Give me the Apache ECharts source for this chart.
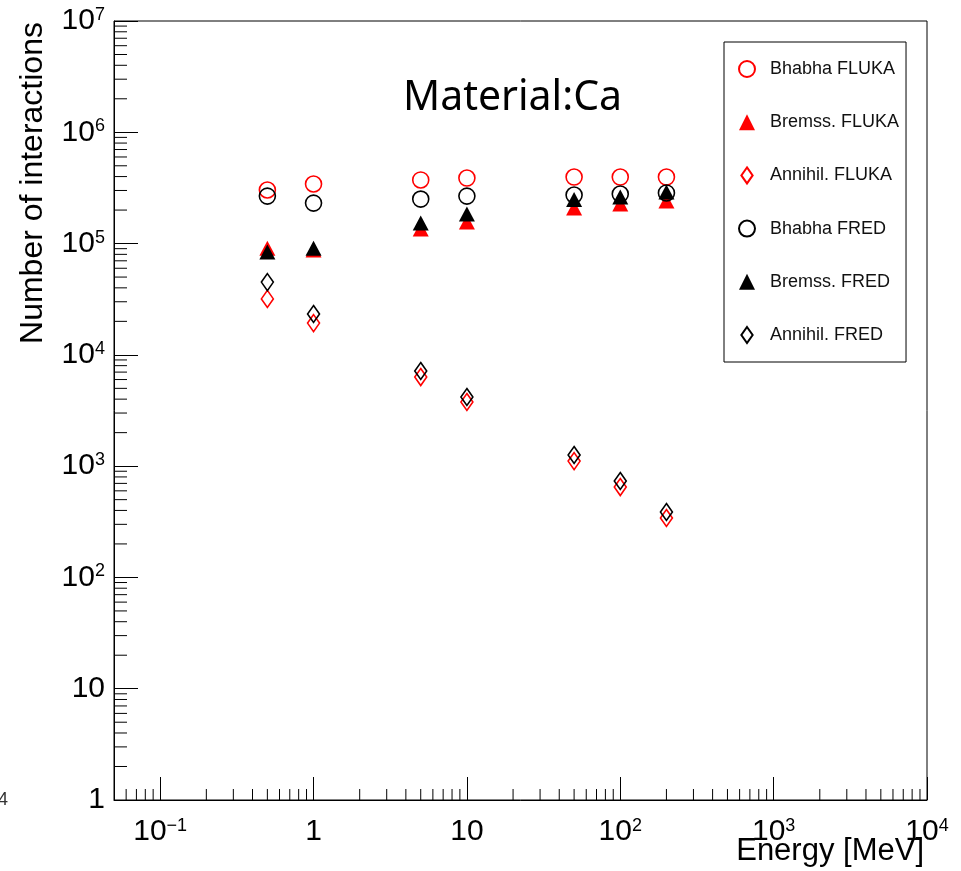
<!DOCTYPE html>
<html>
<head>
<meta charset="utf-8">
<script src="https://cdn.jsdelivr.net/npm/echarts@6/dist/echarts.min.js"></script>
<style>
  html, body { margin: 0; padding: 0; background: #fff; }
  #chart { width: 961px; height: 871px; }
</style>
</head>
<body>
<div id="chart"></div>
<script>
// Beam energies [MeV]
const energies = [0.5, 1, 5, 10, 50, 100, 200];

// Number of interactions per process, FLUKA
const bhabhaFluka  = [3.03e5, 3.43e5, 3.73e5, 3.88e5, 3.96e5, 3.96e5, 3.96e5];
const bremssFluka  = [9.1e4, 8.75e4, 1.35e5, 1.56e5, 2.09e5, 2.27e5, 2.41e5];
const annihilFluka = [3.18e4, 1.93e4, 6.32e3, 3.77e3, 1.11e3, 649, 342];

// Number of interactions per process, FRED
const bhabhaFred  = [2.67e5, 2.31e5, 2.51e5, 2.67e5, 2.73e5, 2.79e5, 2.85e5];
const bremssFred  = [8.4e4, 9.1e4, 1.53e5, 1.84e5, 2.49e5, 2.62e5, 2.91e5];
const annihilFred = [4.51e4, 2.33e4, 7.16e3, 4.18e3, 1.26e3, 735, 387];

// Axis ranges and decade tick labels
const xRange = [0.05, 10000];
const yRange = [1, 1e7];
const minorMultipliers = [2, 3, 4, 5, 6, 7, 8, 9];
const xDecades = [0.01, 0.1, 1, 10, 100, 1000];
const yDecades = [1, 10, 100, 1000, 1e4, 1e5, 1e6];

const FONT = 'Liberation Sans, Arial, Helvetica, sans-serif';
// Narrow diamond used for the legend entries of the annihilation series
const DIAMOND_ICON = 'path://M6,0L12,8.5L6,17L0,8.5Z';

function pairs(ys) { return energies.map((e, i) => [e, ys[i]]); }

// Decade label: 1, 10, otherwise 10 with superscript exponent
function decadeLabel(v) {
  const e = Math.log10(v);
  const r = Math.round(e);
  if (Math.abs(e - r) > 1e-6) return '';
  if (r === 0) return '1';
  if (r === 1) return '10';
  const exp = r < 0 ? '\u2212' + (-r) : String(r);
  return '{b|10}{s|' + exp + '}';
}

// Minor tick marks at 2..9 x 10^n inside the axis ranges
const minorTicks = [];
xDecades.forEach(d => minorMultipliers.forEach(m => {
  const v = m * d;
  if (v > xRange[0] && v < xRange[1]) minorTicks.push([v, yRange[0], 0]);
}));
yDecades.forEach(d => minorMultipliers.forEach(m => {
  const v = m * d;
  if (v > yRange[0] && v < yRange[1]) minorTicks.push([xRange[0], v, 1]);
}));

const richLabel = {
  b: { fontSize: 30, fontFamily: FONT, color: '#000' },
  s: { fontSize: 18, fontFamily: FONT, color: '#000', verticalAlign: 'top' }
};

function scatter(name, data, symbol, size, color, filled) {
  return {
    name: name,
    type: 'scatter',
    data: pairs(data),
    symbol: symbol,
    symbolSize: size,
    itemStyle: filled
      ? { color: color, borderWidth: 0, opacity: 1 }
      : { color: 'rgba(255,255,255,0)', borderColor: color, borderWidth: 1.6, opacity: 1 },
    emphasis: { disabled: true },
    z: 3
  };
}

const chart = echarts.init(document.getElementById('chart'), null, { renderer: 'canvas' });

chart.setOption({
  animation: false,
  backgroundColor: '#fff',
  grid: {
    left: 114, top: 21, right: 34, bottom: 71,
    show: true, borderColor: '#000', borderWidth: 1, backgroundColor: 'transparent'
  },
  xAxis: {
    type: 'log',
    logBase: 10,
    min: xRange[0],
    max: xRange[1],
    axisLine: { show: true, onZero: false, lineStyle: { color: '#000', width: 1 } },
    axisTick: { show: true, inside: true, length: 23, lineStyle: { color: '#000', width: 1 } },
    axisLabel: {
      show: true, margin: 17, fontSize: 30, fontFamily: FONT, color: '#000',
      formatter: decadeLabel, rich: richLabel, showMinLabel: true, showMaxLabel: true, hideOverlap: false
    },
    splitLine: { show: false }
  },
  yAxis: {
    type: 'log',
    logBase: 10,
    min: yRange[0],
    max: yRange[1],
    axisLine: { show: true, onZero: false, lineStyle: { color: '#000', width: 1 } },
    axisTick: { show: true, inside: true, length: 24, lineStyle: { color: '#000', width: 1 } },
    axisLabel: {
      show: true, margin: 9, fontSize: 30, fontFamily: FONT, color: '#000',
      formatter: decadeLabel, rich: richLabel, showMinLabel: true, showMaxLabel: true, hideOverlap: false
    },
    splitLine: { show: false }
  },
  legend: {
    orient: 'vertical',
    left: 724,
    top: 42,
    padding: [18, 7, 18, 14],
    itemWidth: 16,
    itemHeight: 16,
    itemGap: 35.2,
    borderColor: '#000',
    borderWidth: 1,
    backgroundColor: '#fff',
    selectedMode: false,
    textStyle: { fontSize: 18, fontFamily: FONT, color: '#111', padding: [0, 0, 0, 10] },
    data: [
      { name: 'Bhabha FLUKA' },
      { name: 'Bremss. FLUKA' },
      { name: 'Annihil. FLUKA', icon: DIAMOND_ICON },
      { name: 'Bhabha FRED' },
      { name: 'Bremss. FRED' },
      { name: 'Annihil. FRED', icon: DIAMOND_ICON }
    ]
  },
  graphic: [
    {
      type: 'text', left: 403, top: 78, silent: true,
      style: { text: 'Material:Ca', font: '41px "Noto Sans", "Open Sans", sans-serif', fill: '#000' }
    },
    {
      type: 'text', x: 924, y: 851, silent: true,
      style: { text: 'Energy [MeV]', font: '31px ' + FONT, fill: '#000', textAlign: 'right', textVerticalAlign: 'middle' }
    },
    {
      type: 'text', x: 33, y: 183, rotation: Math.PI / 2, silent: true,
      style: { text: 'Number of interactions', font: '32px ' + FONT, fill: '#000', textAlign: 'center', textVerticalAlign: 'middle' }
    },
    {
      type: 'text', x: -2, y: 800, silent: true,
      style: { text: '4', font: '18px ' + FONT, fill: '#333', textVerticalAlign: 'middle' }
    }
  ],
  series: [
    {
      name: 'minor ticks',
      type: 'custom',
      data: minorTicks,
      dimensions: ['x', 'y', 'kind'],
      encode: { x: 0, y: 1 },
      silent: true,
      z: 1,
      renderItem: function (params, api) {
        const p = api.coord([api.value(0), api.value(1)]);
        const vertical = api.value(2) === 0;
        return {
          type: 'line',
          shape: vertical
            ? { x1: p[0], y1: p[1], x2: p[0], y2: p[1] - 11 }
            : { x1: p[0], y1: p[1], x2: p[0] + 13, y2: p[1] },
          style: { stroke: '#000', lineWidth: 1 }
        };
      }
    },
    scatter('Bhabha FLUKA', bhabhaFluka, 'circle', 16, '#ff0000', false),
    scatter('Bremss. FLUKA', bremssFluka, 'triangle', [16, 15], '#ff0000', true),
    scatter('Annihil. FLUKA', annihilFluka, 'diamond', [12, 17], '#ff0000', false),
    scatter('Bhabha FRED', bhabhaFred, 'circle', 16, '#000000', false),
    scatter('Bremss. FRED', bremssFred, 'triangle', [16, 15], '#000000', true),
    scatter('Annihil. FRED', annihilFred, 'diamond', [12, 17], '#000000', false)
  ]
});
</script>
</body>
</html>
